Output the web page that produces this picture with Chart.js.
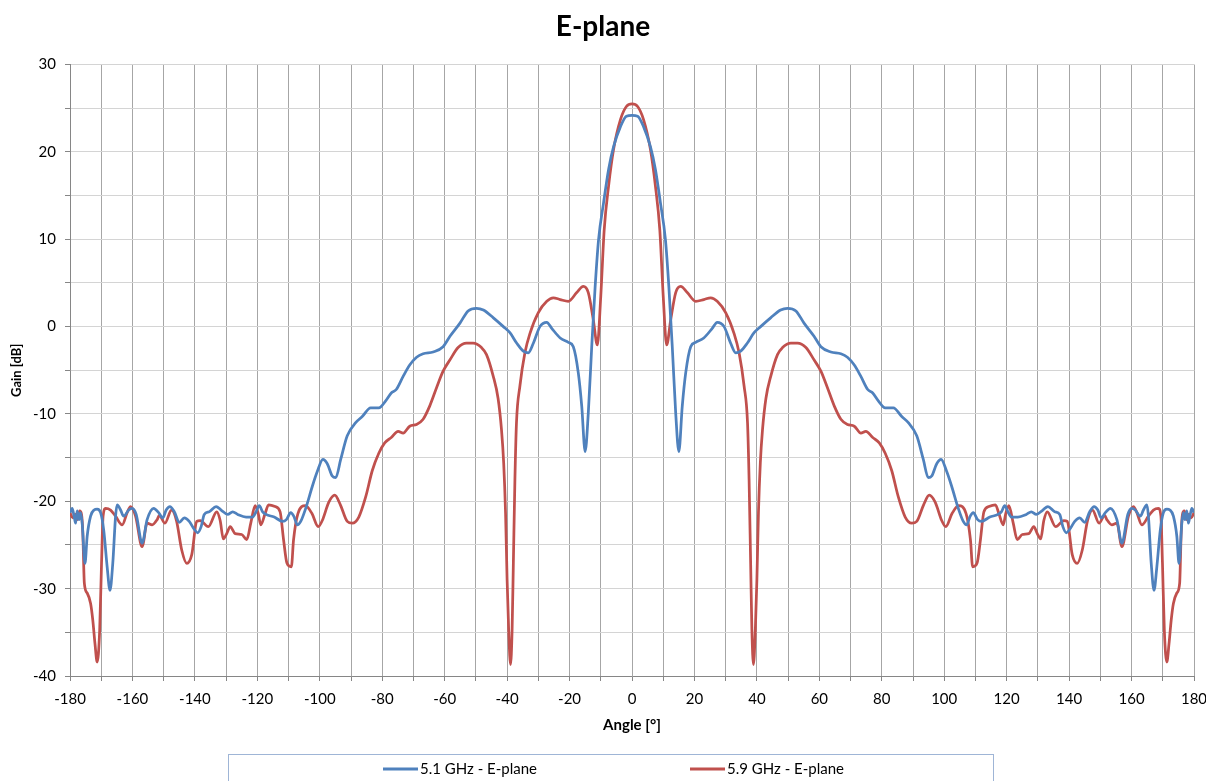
<!DOCTYPE html>
<html>
<head>
<meta charset="utf-8">
<title>E-plane</title>
<script src="https://cdn.jsdelivr.net/npm/chart.js@4.4.1/dist/chart.umd.min.js"></script>
<style>
  html, body { margin: 0; padding: 0; background: #fff; }
  #wrap { width: 1206px; height: 781px; position: relative; }
</style>
</head>
<body>
<div id="wrap"><canvas id="patternChart"></canvas></div>
<script>
const SERIES_LABELS = ['5.1 GHz - E-plane', '5.9 GHz - E-plane'];
const SERIES_COLORS = ['#4F81BD', '#C0504D'];

const angle51 = [
  -180, -179.3, -178.7, -178.2, -177.7, -177.1, -176.6, -176.1, -175.2, -174.5,
  -173.4, -172.3, -171.3, -170.2, -169.2, -168.1, -167.2, -166.3, -165.4, -164.9,
  -163.8, -162.8, -161.2, -160.1, -158.8, -156.9, -155.3, -153.2, -151.6, -150.3,
  -149.2, -148.0, -146.6, -145.0, -143.4, -141.8, -140.2, -139.1, -138.0, -137.0,
  -135.4, -133.2, -131.6, -129.5, -127.9, -126.3, -123.6, -121.5, -120.4, -119.4,
  -118.3, -117.2, -114.6, -111.9, -110.7, -109.3, -108.2, -107.2, -106.1, -104.5,
  -102.4, -100.8, -99.0, -97.6, -96.0, -94.9, -93.3, -91.2, -88.5, -86.4,
  -83.7, -81.1, -78.9, -77.1, -75.5, -73.3, -71.2, -69.0, -66.9, -63.7,
  -60.5, -58.3, -55.1, -52.5, -49.8, -47.6, -44.4, -41.2, -39.1, -36.9,
  -34.8, -33.2, -31.6, -29.5, -27.3, -25.7, -23.0, -20.4, -18.8, -17.2,
  -16.1, -15.0, -14.0, -12.9, -11.8, -10.7, -9.1, -7.5, -5.9, -3.7,
  -1.8, 0,
  1.8, 3.7, 5.9, 7.5, 9.1, 10.7, 11.8, 12.9, 14.0, 15.0,
  16.1, 17.2, 18.8, 20.4, 23.0, 25.7, 27.3, 29.5, 31.6, 33.2,
  34.8, 36.9, 39.1, 41.2, 44.4, 47.6, 49.8, 52.5, 55.1, 58.3,
  60.5, 63.7, 66.9, 69.0, 71.2, 73.3, 75.5, 77.1, 78.9, 81.1,
  83.7, 86.4, 88.5, 91.2, 93.3, 94.9, 96.0, 97.6, 99.0, 100.8,
  102.4, 104.5, 106.1, 107.2, 108.2, 109.3, 110.7, 111.9, 114.6, 117.2,
  118.3, 119.4, 120.4, 121.5, 123.6, 126.3, 127.9, 129.5, 131.6, 133.2,
  135.4, 137.0, 138.0, 139.1, 140.2, 141.8, 143.4, 145.0, 146.6, 148.0,
  149.2, 150.3, 151.6, 153.2, 155.3, 156.9, 158.8, 160.1, 161.2, 162.8,
  163.8, 164.9, 165.4, 166.3, 167.2, 168.1, 169.2, 170.2, 171.3, 172.3,
  173.4, 174.5, 175.2, 176.1, 176.6, 177.1, 177.7, 178.2, 178.7, 179.3,
  180
];
const gain51 = [
  -21.3, -20.8, -21.7, -22.5, -21.1, -22.1, -21.3, -22.5, -27.1, -24.0,
  -21.7, -21.0, -20.9, -21.3, -23.3, -27.5, -30.2, -27.1, -21.7, -20.4,
  -21.0, -21.7, -21.0, -20.8, -21.5, -24.8, -22.1, -20.8, -21.3, -21.9,
  -21.0, -20.6, -21.2, -22.4, -21.9, -22.3, -23.2, -23.6, -22.9, -21.5,
  -21.2, -20.6, -21.0, -21.5, -21.2, -21.5, -21.8, -21.8, -21.2, -20.5,
  -21.2, -21.5, -21.8, -22.3, -22.1, -21.3, -21.8, -22.7, -22.3, -20.8,
  -18.3, -16.6, -15.2, -15.7, -17.1, -17.3, -15.2, -12.5, -11.0, -10.3,
  -9.3, -9.3, -8.5, -7.6, -7.2, -5.7, -4.4, -3.5, -3.1, -2.9,
  -2.3, -1.1, 0.4, 1.8, 2.1, 1.9, 1.0, 0.0, -0.7, -1.9,
  -2.8, -3.0, -1.9, 0.0, 0.5, -0.2, -1.3, -1.8, -2.3, -5.3,
  -9.1, -14.3, -9.9, -2.3, 4.6, 10.0, 14.2, 18.0, 20.6, 22.9,
  24.1, 24.2,
  24.1, 22.9, 20.6, 18.0, 14.2, 10.0, 4.6, -2.3, -9.9, -14.3,
  -9.1, -5.3, -2.3, -1.8, -1.3, -0.2, 0.5, 0.0, -1.9, -3.0,
  -2.8, -1.9, -0.7, 0.0, 1.0, 1.9, 2.1, 1.8, 0.4, -1.1,
  -2.3, -2.9, -3.1, -3.5, -4.4, -5.7, -7.2, -7.6, -8.5, -9.3,
  -9.3, -10.3, -11.0, -12.5, -15.2, -17.3, -17.1, -15.7, -15.2, -16.6,
  -18.3, -20.8, -22.3, -22.7, -21.8, -21.3, -22.1, -22.3, -21.8, -21.5,
  -21.2, -20.5, -21.2, -21.8, -21.8, -21.5, -21.2, -21.5, -21.0, -20.6,
  -21.2, -21.5, -22.9, -23.6, -23.2, -22.3, -21.9, -22.4, -21.2, -20.6,
  -21.0, -21.9, -21.3, -20.8, -22.1, -24.8, -21.5, -20.8, -21.0, -21.7,
  -21.0, -20.4, -21.7, -27.1, -30.2, -27.5, -23.3, -21.3, -20.9, -21.0,
  -21.7, -24.0, -27.1, -22.5, -21.3, -22.1, -21.1, -22.5, -21.7, -20.8,
  -21.3
];

const angle59 = [
  -180, -179.1, -178.2, -177.7, -176.9, -176.3, -175.9, -175.4, -174.5, -173.4,
  -172.7, -172.0, -171.3, -170.5, -169.9, -169.4, -168.6, -167.0, -165.4, -163.3,
  -161.7, -160.6, -159.0, -156.9, -155.3, -153.7, -152.1, -151.4, -149.6, -147.5,
  -145.9, -144.2, -142.6, -141.0, -139.4, -138.3, -135.7, -133.0, -131.9, -130.9,
  -129.8, -128.7, -127.1, -125.0, -123.4, -122.1, -120.7, -119.7, -118.9, -117.5,
  -116.4, -114.3, -112.7, -111.6, -110.5, -109.1, -108.4, -107.0, -104.6, -102.5,
  -100.5, -99.2, -97.1, -95.2, -93.4, -91.2, -89.6, -87.5, -85.3, -83.2,
  -81.1, -79.2, -77.1, -74.9, -73.3, -71.2, -69.0, -66.9, -64.8, -62.6,
  -60.5, -58.3, -55.7, -53.0, -50.9, -48.2, -46.6, -44.5, -42.9, -41.8,
  -41.1, -40.5, -40.0, -39.5, -38.9, -38.4, -38.0, -37.5, -37.0, -35.9,
  -34.3, -32.7, -30.0, -27.3, -25.2, -23.0, -20.4, -17.7, -15.6, -14.0,
  -12.4, -11.1, -10.0, -8.9, -7.5, -5.9, -3.7, -1.8, 0,
  1.8, 3.7, 5.9, 7.5, 8.9, 10.0, 11.1, 12.4, 14.0, 15.6,
  17.7, 20.4, 23.0, 25.2, 27.3, 30.0, 32.7, 34.3, 35.9, 37.0,
  37.5, 38.0, 38.4, 38.9, 39.5, 40.0, 40.5, 41.1, 41.8, 42.9,
  44.5, 46.6, 48.2, 50.9, 53.0, 55.7, 58.3, 60.5, 62.6, 64.8,
  66.9, 69.0, 71.2, 73.3, 74.9, 77.1, 79.2, 81.1, 83.2, 85.3,
  87.5, 89.6, 91.2, 93.4, 95.2, 97.1, 99.2, 100.5, 102.5, 104.6,
  107.0, 108.4, 109.1, 110.5, 111.6, 112.7, 114.3, 116.4, 117.5, 118.9,
  119.7, 120.7, 122.1, 123.4, 125.0, 127.1, 128.7, 129.8, 130.9, 131.9,
  133.0, 135.7, 138.3, 139.4, 141.0, 142.6, 144.2, 145.9, 147.5, 149.6,
  151.4, 152.1, 153.7, 155.3, 156.9, 159.0, 160.6, 161.7, 163.3, 165.4,
  167.0, 168.6, 169.4, 169.9, 170.5, 171.3, 172.0, 172.7, 173.4, 174.5,
  175.4, 175.9, 176.3, 176.9, 177.7, 178.2, 179.1, 180
];
const gain59 = [
  -21.3, -21.9, -21.5, -22.1, -21.1, -21.5, -23.6, -29.4, -30.5, -31.7,
  -33.6, -36.3, -38.4, -34.8, -27.1, -21.7, -20.8, -21.0, -21.7, -22.7,
  -21.3, -20.6, -21.7, -25.2, -22.5, -22.7, -22.1, -21.6, -22.5, -21.0,
  -22.2, -25.6, -27.1, -26.1, -22.3, -22.2, -22.9, -21.2, -22.2, -24.3,
  -23.7, -22.9, -23.7, -23.8, -24.4, -22.5, -20.5, -21.4, -22.7, -21.4,
  -20.4, -20.6, -21.2, -24.4, -27.1, -27.5, -24.4, -21.4, -20.5, -21.4,
  -22.9, -22.2, -20.1, -19.3, -20.4, -22.3, -22.5, -21.8, -19.5, -16.5,
  -14.5, -13.3, -12.7, -12.0, -12.2, -11.4, -11.2, -10.6, -9.1, -7.0,
  -5.1, -3.8, -2.4, -1.9, -1.9, -2.4, -3.2, -5.6, -8.2, -11.8,
  -15.6, -21.3, -29.0, -34.7, -38.7, -34.7, -27.1, -17.5, -11.0, -6.8,
  -3.0, -0.8, 1.6, 2.9, 3.3, 3.1, 2.9, 3.9, 4.6, 3.9,
  0.8, -2.1, 3.5, 11.1, 16.1, 20.3, 23.7, 25.2, 25.5,
  25.2, 23.7, 20.3, 16.1, 11.1, 3.5, -2.1, 0.8, 3.9, 4.6,
  3.9, 2.9, 3.1, 3.3, 2.9, 1.6, -0.8, -3.0, -6.8, -11.0,
  -17.5, -27.1, -34.7, -38.7, -34.7, -29.0, -21.3, -15.6, -11.8, -8.2,
  -5.6, -3.2, -2.4, -1.9, -1.9, -2.4, -3.8, -5.1, -7.0, -9.1,
  -10.6, -11.2, -11.4, -12.2, -12.0, -12.7, -13.3, -14.5, -16.5, -19.5,
  -21.8, -22.5, -22.3, -20.4, -19.3, -20.1, -22.2, -22.9, -21.4, -20.5,
  -21.4, -24.4, -27.5, -27.1, -24.4, -21.2, -20.6, -20.4, -21.4, -22.7,
  -21.4, -20.5, -22.5, -24.4, -23.8, -23.7, -22.9, -23.7, -24.3, -22.2,
  -21.2, -22.9, -22.2, -22.3, -26.1, -27.1, -25.6, -22.2, -21.0, -22.5,
  -21.6, -22.1, -22.7, -22.5, -25.2, -21.7, -20.6, -21.3, -22.7, -21.7,
  -21.0, -20.8, -21.7, -27.1, -34.8, -38.4, -36.3, -33.6, -31.7, -30.5,
  -29.4, -23.6, -21.5, -21.1, -22.1, -21.5, -21.9, -21.3
];

const X_MIN = -180, X_MAX = 180, X_STEP = 10, X_LABEL_STEP = 20;
const Y_MIN = -40, Y_MAX = 30, Y_STEP = 5, Y_LABEL_STEP = 10;

const FONT = "Lato, 'Open Sans', sans-serif";

function toPoints(xs, ys) {
  return xs.map((x, i) => ({ x, y: ys[i] }));
}

// Legend drawn in a framed box under the axis title, Excel style
const boxedLegend = {
  id: 'boxedLegend',
  afterDraw(chart) {
    const { ctx } = chart;
    const entryX = [383, 690];
    const rowY = 769;
    ctx.save();
    ctx.strokeStyle = '#9fb5d6';
    ctx.lineWidth = 1;
    ctx.strokeRect(228.5, 754.5, 765, 40);
    ctx.font = `15px ${FONT}`;
    ctx.textBaseline = 'middle';
    ctx.textAlign = 'left';
    chart.data.datasets.forEach((ds, i) => {
      const x = entryX[i];
      ctx.strokeStyle = ds.borderColor;
      ctx.lineWidth = 3;
      ctx.beginPath();
      ctx.moveTo(x, rowY);
      ctx.lineTo(x + 35, rowY);
      ctx.stroke();
      ctx.fillStyle = '#000';
      ctx.fillText(ds.label, x + 37, rowY);
    });
    ctx.restore();
  }
};

const ctx = document.getElementById('patternChart').getContext('2d');
new Chart(ctx, {
  type: 'line',
  data: {
    datasets: [
      {
        label: SERIES_LABELS[0],
        data: toPoints(angle51, gain51),
        borderColor: SERIES_COLORS[0],
        borderWidth: 2.75,
        pointRadius: 0,
        fill: false,
        cubicInterpolationMode: 'monotone',
      },
      {
        label: SERIES_LABELS[1],
        data: toPoints(angle59, gain59),
        borderColor: SERIES_COLORS[1],
        borderWidth: 2.75,
        pointRadius: 0,
        fill: false,
        cubicInterpolationMode: 'monotone',
      },
    ],
  },
  options: {
    responsive: true,
    maintainAspectRatio: false,
    animation: false,
    layout: { padding: { left: 0, right: 0, top: 0, bottom: 41 } },
    plugins: {
      legend: { display: false },
      tooltip: { enabled: false },
      title: {
        display: true,
        text: 'E-plane',
        color: '#000',
        font: { family: FONT, size: 28, weight: 'bold' },
        padding: { top: 10, bottom: 21 },
      },
    },
    scales: {
      x: {
        type: 'linear',
        min: X_MIN,
        max: X_MAX,
        afterFit: s => { s.height = 64; s.paddingRight = 12; },
        ticks: {
          stepSize: X_STEP,
          autoSkip: false,
          maxRotation: 0,
          padding: 9,
          color: '#000',
          font: { family: FONT, size: 15 },
          callback: v => (v % X_LABEL_STEP === 0 ? v : ''),
        },
        grid: { color: '#a6a6a6', tickLength: 5, tickColor: '#868686' },
        border: { color: '#868686' },
        title: {
          display: true,
          text: 'Angle [°]',
          color: '#000',
          font: { family: FONT, size: 15, weight: 'bold' },
          padding: { top: 0, bottom: 6 },
        },
      },
      y: {
        min: Y_MIN,
        max: Y_MAX,
        afterFit: s => { s.width = 70; },
        ticks: {
          stepSize: Y_STEP,
          autoSkip: false,
          padding: 9,
          color: '#000',
          font: { family: FONT, size: 15 },
          callback: v => (v % Y_LABEL_STEP === 0 ? v : ''),
        },
        grid: { color: '#d4d4d4', tickLength: 5, tickColor: '#868686' },
        border: { color: '#868686' },
        title: {
          display: true,
          text: 'Gain [dB]',
          color: '#000',
          font: { family: FONT, size: 13, weight: 'bold' },
          padding: { top: 9, bottom: 0 },
        },
      },
    },
  },
  plugins: [boxedLegend],
});
</script>
</body>
</html>
